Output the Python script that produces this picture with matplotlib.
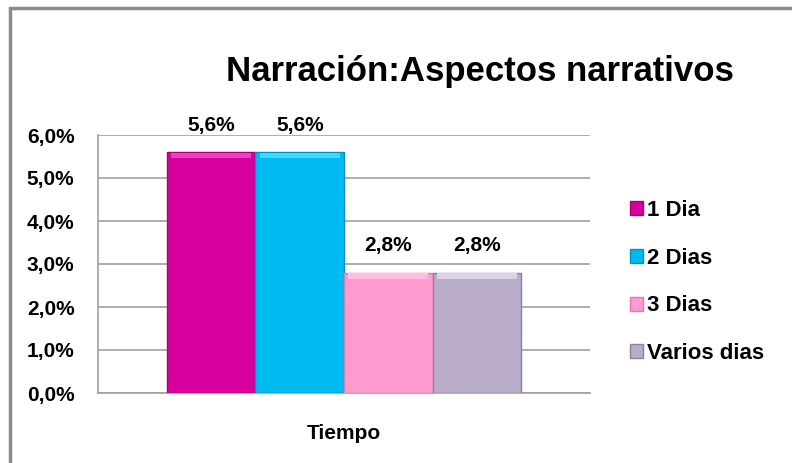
import matplotlib.pyplot as plt
from matplotlib.patches import Rectangle
from matplotlib.ticker import FuncFormatter

# ==========================
# DATOS
# ==========================

categorias = ["1 Dia", "2 Dias", "3 Dias", "Varios dias"]
valores = [5.6, 5.6, 2.8, 2.8]
etiquetas = ["5,6%", "5,6%", "2,8%", "2,8%"]
colores = ["#D6009C", "#00BBF2", "#FF9BCF", "#B9ACC8"]
claros = ["#F040C0", "#40D8FF", "#FFC0E4", "#DCD2E6"]
bordes = ["#A8007A", "#0090C0", "#E07AAE", "#8E8296"]

plt.rcParams["font.family"] = ["Liberation Sans Narrow", "Liberation Sans", "DejaVu Sans"]

fig = plt.figure(figsize=(7.92, 4.63), dpi=100)

# marco gris exterior (solo se ven borde izquierdo y superior)
fig.patches.append(Rectangle(
    (10 / 792, -0.1), 1.2, 1.1 - 8 / 463,
    transform=fig.transFigure, fill=False,
    edgecolor="#8C8C8C", linewidth=2.5
))

ax = fig.add_axes([98 / 792, 1 - 393 / 463, (590 - 98) / 792, (393 - 135) / 463])

# ==========================
# BARRAS
# ==========================

ancho = 0.18
pos = [-1.5 * ancho, -0.5 * ancho, 0.5 * ancho, 1.5 * ancho]

for i in range(len(categorias)):
    ax.bar(
        pos[i], valores[i], width=ancho,
        color=colores[i], edgecolor=bordes[i], linewidth=1,
        label=categorias[i], zorder=3
    )
    # brillo superior
    ax.bar(
        pos[i], 0.12, bottom=valores[i] - 0.14, width=ancho * 0.9,
        color=claros[i], linewidth=0, zorder=4
    )
    ax.text(
        pos[i], valores[i] + 0.4, etiquetas[i],
        ha="center", va="bottom",
        fontsize=15, fontweight="bold"
    )

ax.set_xlim(-0.5, 0.5)
ax.set_ylim(0, 6)
ax.set_yticks([0, 1, 2, 3, 4, 5, 6])
ax.yaxis.set_major_formatter(FuncFormatter(lambda v, p: f"{v:.1f}%".replace(".", ",")))
ax.set_xticks([0])
ax.set_xticklabels(["Tiempo"], fontsize=15, fontweight="bold")
ax.tick_params(axis="x", length=0, pad=22)
ax.tick_params(axis="y", length=0, pad=17, labelsize=15)
for t in ax.get_yticklabels():
    t.set_fontweight("bold")

ax.grid(axis="y", color="#A0A0A0", linewidth=1.2, zorder=0)
for lado in ["top", "right"]:
    ax.spines[lado].set_visible(False)
ax.spines["left"].set_color("#A0A0A0")
ax.spines["bottom"].set_color("#A0A0A0")
ax.spines["left"].set_linewidth(1.2)
ax.spines["bottom"].set_linewidth(1.2)

# ==========================
# TITULO Y LEYENDA
# ==========================

fig.text(480 / 792, 1 - 72 / 463, "Narración:Aspectos narrativos",
         ha="center", va="center", fontsize=25, fontweight="bold")

leg = ax.legend(
    loc="center left", bbox_to_anchor=(1.04, 0.43),
    frameon=False, fontsize=16, handlelength=0.6, handleheight=0.6,
    handletextpad=0.2, labelspacing=1.2
)
for t in leg.get_texts():
    t.set_fontweight("bold")

plt.savefig("out.png", dpi=100)
